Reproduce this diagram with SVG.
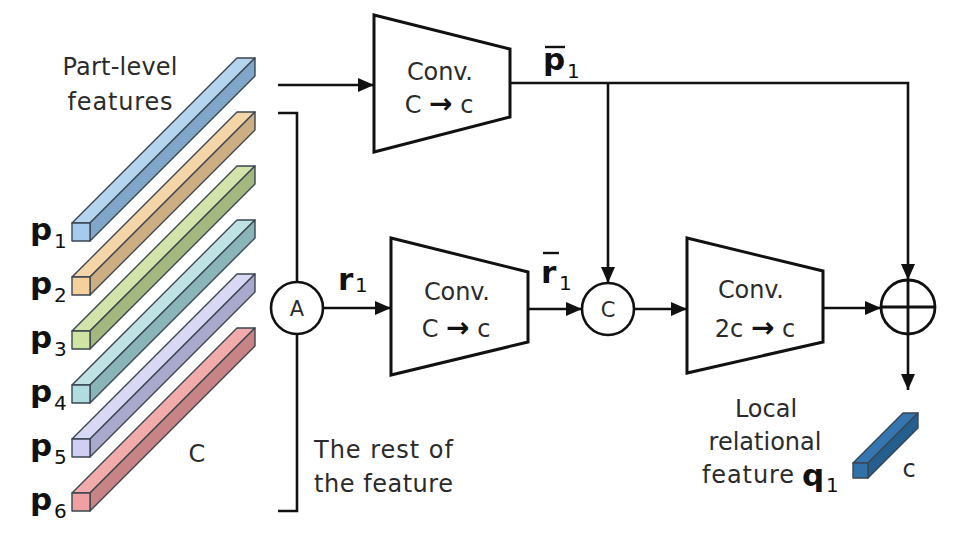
<svg xmlns="http://www.w3.org/2000/svg" width="956" height="550" viewBox="0 0 956 550">
<defs>
<style>
.t{font-family:"DejaVu Sans","Liberation Sans",sans-serif;font-size:24px;fill:#2b2b2b}
.b{font-family:"DejaVu Sans","Liberation Sans",sans-serif;font-size:31px;font-weight:bold;fill:#111}
.s{font-family:"DejaVu Sans","Liberation Sans",sans-serif;font-size:20px;fill:#111}
.ar{font-size:28px;font-weight:bold;fill:#111}
.ln{fill:none;stroke:#111;stroke-width:2.6}
.arr{fill:none;stroke:#111;stroke-width:2.6;marker-end:url(#ah)}
.box{fill:#fff;stroke:#111;stroke-width:3;stroke-linejoin:miter}
.ed{stroke:#3a4650;stroke-width:1.4;stroke-linejoin:round}
</style>
<marker id="ah" markerUnits="userSpaceOnUse" markerWidth="17" markerHeight="15" refX="16" refY="7" orient="auto">
<path d="M0,0 L16,7 L0,14 z" fill="#111"/>
</marker>
</defs>
<rect width="956" height="550" fill="#fff"/>

<g id="bars">
<g id="bar-p1">
<polygon class="ed" fill="#b5d4ee" points="72,223 90,223 255,58 237,58"/>
<polygon class="ed" fill="#80a7c9" points="90,223 255,58 255,76 90,241"/>
<rect class="ed" fill="#a6cbec" x="72" y="223" width="18" height="18"/>
</g>
<g id="bar-p2" transform="translate(0,54)">
<polygon class="ed" fill="#f3d5a8" points="72,223 90,223 255,58 237,58"/>
<polygon class="ed" fill="#cdae82" points="90,223 255,58 255,76 90,241"/>
<rect class="ed" fill="#f5d09c" x="72" y="223" width="18" height="18"/>
</g>
<g id="bar-p3" transform="translate(0,108)">
<polygon class="ed" fill="#d3e4ab" points="72,223 90,223 255,58 237,58"/>
<polygon class="ed" fill="#a3b87f" points="90,223 255,58 255,76 90,241"/>
<rect class="ed" fill="#cfe3a2" x="72" y="223" width="18" height="18"/>
</g>
<g id="bar-p4" transform="translate(0,162)">
<polygon class="ed" fill="#bfe3e5" points="72,223 90,223 255,58 237,58"/>
<polygon class="ed" fill="#89b5b8" points="90,223 255,58 255,76 90,241"/>
<rect class="ed" fill="#b1dde0" x="72" y="223" width="18" height="18"/>
</g>
<g id="bar-p5" transform="translate(0,216)">
<polygon class="ed" fill="#d8d7f4" points="72,223 90,223 255,58 237,58"/>
<polygon class="ed" fill="#a9a8cd" points="90,223 255,58 255,76 90,241"/>
<rect class="ed" fill="#d0cef3" x="72" y="223" width="18" height="18"/>
</g>
<g id="bar-p6" transform="translate(0,270)">
<polygon class="ed" fill="#f2aaaa" points="72,223 90,223 255,58 237,58"/>
<polygon class="ed" fill="#c88384" points="90,223 255,58 255,76 90,241"/>
<rect class="ed" fill="#efa1a2" x="72" y="223" width="18" height="18"/>
</g>
</g>

<g id="bar-labels">
<text class="b" x="30" y="240">p</text><text class="s" x="54" y="248">1</text>
<text class="b" x="30" y="294">p</text><text class="s" x="54" y="302">2</text>
<text class="b" x="30" y="348">p</text><text class="s" x="54" y="356">3</text>
<text class="b" x="30" y="402">p</text><text class="s" x="54" y="410">4</text>
<text class="b" x="30" y="456">p</text><text class="s" x="54" y="464">5</text>
<text class="b" x="30" y="510">p</text><text class="s" x="54" y="518">6</text>
<text class="t" x="120" y="75" text-anchor="middle" textLength="115">Part-level</text>
<text class="t" x="120" y="110" text-anchor="middle" textLength="105">features</text>
<text class="t" x="197" y="462" text-anchor="middle">C</text>
</g>

<g id="connectors">
<path class="arr" d="M278,85 H374"/>
<path class="ln" d="M278,113 H297 V511 H278"/>
<path class="arr" d="M323,308 H391"/>
<path class="arr" d="M510,83 H908 V280"/>
<path class="arr" d="M608,83 V283"/>
<path class="arr" d="M528,309 H582"/>
<path class="arr" d="M634,309 H687"/>
<path class="arr" d="M823,308 H881"/>
<path class="arr" d="M908,334 V390"/>
</g>

<g id="conv-top">
<polygon class="box" points="374,15 510,49 510,117 374,152"/>
<text class="t" x="440" y="80" text-anchor="middle" textLength="66">Conv.</text>
<text class="t" x="439" y="113" text-anchor="middle">C <tspan class="ar">→</tspan> c</text>
</g>
<g id="p1bar-label">
<line x1="545" y1="47" x2="565" y2="47" stroke="#111" stroke-width="2.4"/>
<text class="b" x="543" y="70">p</text><text class="s" x="567" y="78">1</text>
</g>

<g id="node-A">
<circle cx="297" cy="308" r="26" fill="#fff" stroke="#111" stroke-width="2.6"/>
<text class="t" x="297" y="316" text-anchor="middle" style="font-size:21px">A</text>
</g>
<g id="r1-label">
<text class="b" x="338" y="290">r</text><text class="s" x="355" y="292">1</text>
</g>

<g id="conv-mid">
<polygon class="box" points="391,238 528,272 528,342 391,375"/>
<text class="t" x="457" y="300" text-anchor="middle" textLength="66">Conv.</text>
<text class="t" x="456" y="337" text-anchor="middle">C <tspan class="ar">→</tspan> c</text>
</g>
<g id="r1bar-label">
<line x1="543" y1="253" x2="559" y2="253" stroke="#111" stroke-width="2.4"/>
<text class="b" x="541" y="283">r</text><text class="s" x="559" y="290">1</text>
</g>

<g id="node-C">
<circle cx="608" cy="309" r="26" fill="#fff" stroke="#111" stroke-width="2.6"/>
<text class="t" x="608" y="317" text-anchor="middle" style="font-size:21px">C</text>
</g>

<g id="conv-right">
<polygon class="box" points="687,238 823,271 823,342 687,373"/>
<text class="t" x="751" y="298" text-anchor="middle" textLength="66">Conv.</text>
<text class="t" x="755" y="337" text-anchor="middle">2c <tspan class="ar">→</tspan> c</text>
</g>

<g id="node-sum">
<circle cx="908" cy="307" r="27" fill="#fff" stroke="#111" stroke-width="2.8"/>
<path d="M881,307 H935 M908,280 V334" stroke="#111" stroke-width="2.8"/>
</g>

<g id="output">
<polygon class="ed" fill="#3477b0" stroke="#1c3a56" points="853,463 868,463 918,413 903,413"/>
<polygon class="ed" fill="#255f8f" stroke="#1c3a56" points="868,463 918,413 918,428 868,478"/>
<rect class="ed" fill="#2f72aa" stroke="#1c3a56" x="853" y="463" width="15" height="15"/>
<text class="t" x="909" y="477" text-anchor="middle">c</text>
<text class="t" x="766" y="417" text-anchor="middle">Local</text>
<text class="t" x="765" y="450" text-anchor="middle">relational</text>
<text class="t" x="702" y="483" textLength="92">feature</text>
<text class="b" x="802" y="486">q</text><text class="s" x="826" y="492">1</text>
</g>

<g id="rest-label">
<text class="t" x="314" y="458" textLength="139">The rest of</text>
<text class="t" x="314" y="492" textLength="139">the feature</text>
</g>
</svg>
